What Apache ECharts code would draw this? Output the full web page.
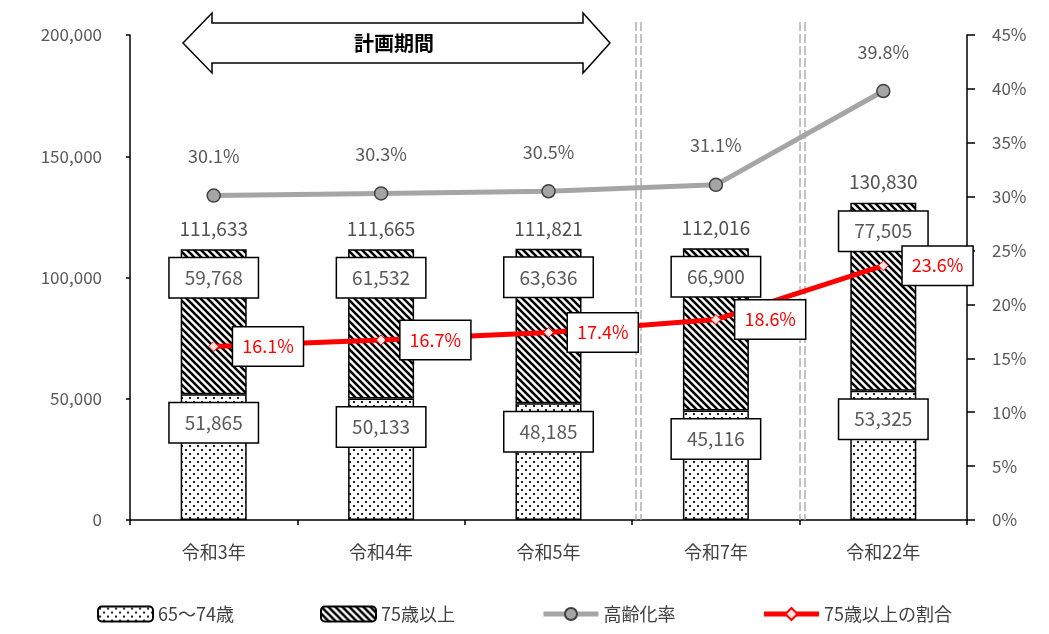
<!DOCTYPE html>
<html>
<head>
<meta charset="utf-8">
<script src="https://cdn.jsdelivr.net/npm/echarts@6/dist/echarts.min.js"></script>
<style>
  html, body { margin: 0; padding: 0; background: #fff; }
  #chart { width: 1049px; height: 634px; }
</style>
</head>
<body>
<div id="chart"></div>
<script>
// data
var categories = ['令和3年', '令和4年', '令和5年', '令和7年', '令和22年'];
var age65to74 = [51865, 50133, 48185, 45116, 53325];
var age75plus = [59768, 61532, 63636, 66900, 77505];
var totals = [111633, 111665, 111821, 112016, 130830];
var agingRate = [30.1, 30.3, 30.5, 31.1, 39.8];
var ratio75 = [16.1, 16.7, 17.4, 18.6, 23.6];
var leftTicks = [0, 50000, 100000, 150000, 200000];
var rightTicks = [0, 5, 10, 15, 20, 25, 30, 35, 40, 45];

var FONT = '"Noto Sans CJK JP", "Noto Sans", sans-serif';

// 網掛けパターン
function dotPattern() {
  var c = document.createElement('canvas');
  c.width = 8; c.height = 8;
  var ctx = c.getContext('2d');
  ctx.fillStyle = '#fff';
  ctx.fillRect(0, 0, 8, 8);
  ctx.fillStyle = '#222';
  ctx.fillRect(1, 1, 2, 2);
  ctx.fillRect(5, 5, 2, 2);
  return c;
}
function hatchPattern() {
  var c = document.createElement('canvas');
  c.width = 7; c.height = 7;
  var ctx = c.getContext('2d');
  ctx.fillStyle = '#fff';
  ctx.fillRect(0, 0, 7, 7);
  ctx.strokeStyle = '#000';
  ctx.lineWidth = 2.6;
  ctx.beginPath();
  ctx.moveTo(-7, -7); ctx.lineTo(14, 14);
  ctx.moveTo(-7, 0); ctx.lineTo(7, 14);
  ctx.moveTo(0, -7); ctx.lineTo(14, 7);
  ctx.stroke();
  return c;
}

var chart = echarts.init(document.getElementById('chart'));

var boxLabel = {
  show: true,
  position: 'insideTop',
  distance: 9,
  color: '#595959',
  fontSize: 19,
  fontFamily: FONT,
  backgroundColor: '#fff',
  borderColor: '#000',
  borderWidth: 1.5,
  padding: [10, 15],
  formatter: function (p) { return p.value.toLocaleString('en-US'); }
};

var option = {
  animation: false,
  backgroundColor: '#fff',
  textStyle: { fontFamily: FONT },
  grid: { left: 130, right: 82, top: 35, bottom: 114 },
  legend: {
    bottom: 6,
    left: 'center',
    itemWidth: 55,
    itemHeight: 15,
    itemGap: 86,
    lineStyle: { width: 5 },
    textStyle: { fontSize: 18, color: '#404040', fontFamily: FONT },
    data: ['65〜74歳', '75歳以上', '高齢化率', '75歳以上の割合']
  },
  xAxis: {
    type: 'category',
    data: categories,
    axisLine: { lineStyle: { color: '#000', width: 1.5 } },
    axisTick: { show: true, length: 5, lineStyle: { color: '#000', width: 1.5 } },
    axisLabel: { color: '#404040', fontSize: 18, margin: 23, fontFamily: FONT }
  },
  yAxis: [
    {
      type: 'value',
      min: leftTicks[0],
      max: leftTicks[leftTicks.length - 1],
      interval: leftTicks[1] - leftTicks[0],
      splitLine: { show: false },
      axisLine: { show: true, lineStyle: { color: '#000', width: 1.5 } },
      axisTick: { show: true, length: 4, lineStyle: { color: '#000', width: 1.5 } },
      axisLabel: {
        color: '#595959', fontSize: 17, margin: 28, fontFamily: FONT,
        formatter: function (v) { return v.toLocaleString('en-US'); }
      }
    },
    {
      type: 'value',
      min: rightTicks[0],
      max: rightTicks[rightTicks.length - 1],
      interval: rightTicks[1] - rightTicks[0],
      splitLine: { show: false },
      axisLine: { show: true, lineStyle: { color: '#000', width: 1.5 } },
      axisTick: { show: true, length: 8, lineStyle: { color: '#000', width: 1.5 } },
      axisLabel: { color: '#595959', fontSize: 17, margin: 25, fontFamily: FONT, formatter: '{value}%' }
    }
  ],
  series: [
    {
      name: '65〜74歳',
      type: 'bar',
      stack: 'pop',
      barWidth: 66,
      itemStyle: { color: { image: dotPattern(), repeat: 'repeat' }, borderColor: '#000', borderWidth: 1.5 },
      label: boxLabel,
      data: age65to74
    },
    {
      name: '75歳以上',
      type: 'bar',
      stack: 'pop',
      barWidth: 66,
      itemStyle: { color: { image: hatchPattern(), repeat: 'repeat' }, borderColor: '#000', borderWidth: 1.5 },
      label: boxLabel,
      data: age75plus
    },
    {
      // 合計ラベル
      name: 'total',
      type: 'scatter',
      symbolSize: 0,
      silent: true,
      label: {
        show: true,
        position: 'top',
        distance: 11,
        color: '#262626',
        fontSize: 19,
        fontFamily: FONT,
        formatter: function (p) { return p.value.toLocaleString('en-US'); }
      },
      data: totals,
      z: 5
    },
    {
      name: '高齢化率',
      type: 'line',
      yAxisIndex: 1,
      symbol: 'circle',
      symbolSize: 13,
      lineStyle: { color: '#a5a5a5', width: 5 },
      itemStyle: { color: '#a5a5a5', borderColor: '#404040', borderWidth: 1.5 },
      label: {
        show: true,
        position: 'top',
        distance: 23,
        color: '#595959',
        fontSize: 18,
        fontFamily: FONT,
        formatter: '{c}%'
      },
      data: agingRate,
      z: 6
    },
    {
      name: '75歳以上の割合',
      type: 'line',
      yAxisIndex: 1,
      symbol: 'diamond',
      symbolSize: 10,
      lineStyle: { color: '#ff0000', width: 5 },
      itemStyle: { color: '#fde2e2', borderColor: '#ff0000', borderWidth: 1 },
      label: {
        show: true,
        position: 'right',
        distance: 14,
        color: '#ff0000',
        fontSize: 18,
        fontFamily: FONT,
        backgroundColor: '#fff',
        borderColor: '#000',
        borderWidth: 1.5,
        padding: [10, 9],
        formatter: function (p) { return p.value.toFixed(1) + '%'; }
      },
      data: ratio75,
      z: 7
    }
  ],
  graphic: [
    // 計画期間の矢印
    {
      type: 'polygon',
      shape: {
        points: [[183, 43], [212, 13], [212, 23], [583, 23], [583, 13], [610, 43],
                 [583, 73], [583, 63], [212, 63], [212, 73]]
      },
      style: { fill: '#fff', stroke: '#000', lineWidth: 1.5 },
      z: 10
    },
    {
      type: 'text',
      x: 394, y: 43,
      style: {
        text: '計画期間', fill: '#000', font: 'bold 20px ' + FONT,
        textAlign: 'center', textVerticalAlign: 'middle'
      },
      z: 11
    },
    // 区切りの二重破線
    { type: 'line', shape: { x1: 636, y1: 22, x2: 636, y2: 520 }, style: { stroke: '#b0b0b0', lineWidth: 1.5, lineDash: [9, 3] }, z: 1 },
    { type: 'line', shape: { x1: 641, y1: 22, x2: 641, y2: 520 }, style: { stroke: '#b0b0b0', lineWidth: 1.5, lineDash: [9, 3] }, z: 1 },
    { type: 'line', shape: { x1: 800, y1: 22, x2: 800, y2: 520 }, style: { stroke: '#b0b0b0', lineWidth: 1.5, lineDash: [9, 3] }, z: 1 },
    { type: 'line', shape: { x1: 805, y1: 22, x2: 805, y2: 520 }, style: { stroke: '#b0b0b0', lineWidth: 1.5, lineDash: [9, 3] }, z: 1 }
  ]
};

chart.setOption(option);
</script>
</body>
</html>
